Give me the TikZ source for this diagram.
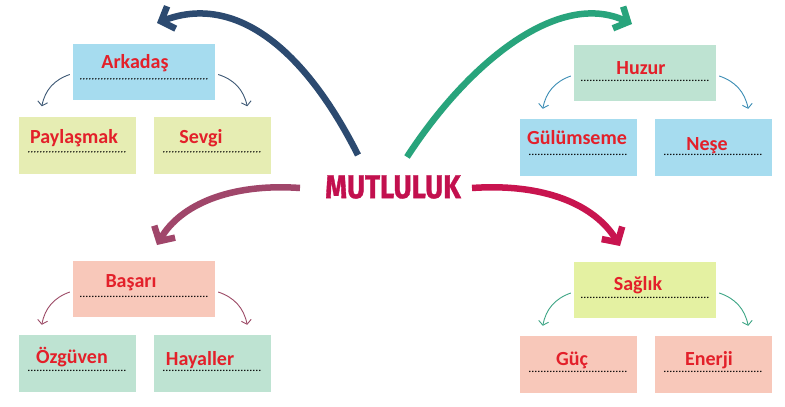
\documentclass[tikz,border=0pt]{standalone}
\usepackage{fontspec}
\setmainfont{Carlito}
\newfontfamily\basfont{Fira Sans}[FakeStretch=0.84,FakeBold=1]
\usetikzlibrary{arrows.meta}

\definecolor{kirmizi}{HTML}{E3202A}
\definecolor{mavikutu}{HTML}{A6DCEF}
\definecolor{sarikutu}{HTML}{E6EDB3}
\definecolor{sagkutu}{HTML}{E4F1A2}
\definecolor{nanekutu}{HTML}{BEE3D2}
\definecolor{somonkutu}{HTML}{F8C8BA}
\definecolor{lacivert}{HTML}{2C4A70}
\definecolor{yesil}{HTML}{28A47C}
\definecolor{murdum}{HTML}{A0466A}
\definecolor{bordo}{HTML}{C8144F}
\definecolor{mutrenk}{HTML}{C2104E}
\definecolor{arkok}{HTML}{3D5875}
\definecolor{huzok}{HTML}{3B8DB5}
\definecolor{basok}{HTML}{9C4A66}
\definecolor{sagok}{HTML}{3DA585}

\tikzset{
  kutu/.style={minimum width=142pt,minimum height=56pt,inner sep=0pt},
  altkutu/.style={kutu,minimum width=117pt,minimum height=57pt},
  yazi/.style={anchor=base,inner sep=0pt,text=kirmizi,font=\bfseries\fontsize{20pt}{24pt}\selectfont},
  noktali/.style={line width=1.6pt,line cap=round,dash pattern=on 0pt off 3pt},
  kalinok/.style={line width=6.5pt,-{Straight Barb[length=11pt,width=24pt,line join=miter]}},
  inceok/.style={line width=0.9pt,-{Straight Barb[length=4pt,width=10pt]}},
}

\begin{document}
\begin{tikzpicture}[x=1pt,y=-1pt]
\fill [white] (0,0) rectangle (785,407);
\useasboundingbox (0,0) rectangle (785,407);

% kutular
\node [kutu,fill=mavikutu] (ark) at (144,71.5) {};
\node [altkutu,fill=sarikutu] (pay) at (77.5,145) {};
\node [altkutu,fill=sarikutu] (sev) at (212.5,145) {};
\node [kutu,fill=nanekutu] (huz) at (645,73) {};
\node [altkutu,fill=mavikutu] (gul) at (578.5,147.5) {};
\node [altkutu,fill=mavikutu] (nes) at (713.5,147.5) {};
\node [kutu,fill=somonkutu] (bas) at (144,289) {};
\node [altkutu,fill=nanekutu] (ozg) at (77.5,363.5) {};
\node [altkutu,fill=nanekutu] (hay) at (212.5,363.5) {};
\node [kutu,fill=sagkutu] (sag) at (645,290) {};
\node [altkutu,fill=somonkutu] (guc) at (578.5,364.5) {};
\node [altkutu,fill=somonkutu] (ene) at (713.5,364.5) {};

% yazilar
\node [yazi] (arkY) at (135,68) {Arkadaş};
\node [yazi] (payY) at (74,143) {Paylaşmak};
\node [yazi] (sevY) at (201,143) {Sevgi};
\node [yazi] (huzY) at (641,74) {Huzur};
\node [yazi] (gulY) at (577,144) {Gülümseme};
\node [yazi] (nesY) at (707,150) {Neşe};
\node [yazi] (basY) at (131,287) {Başarı};
\node [yazi] (ozgY) at (72,363) {Özgüven};
\node [yazi] (hayY) at (200,365) {Hayaller};
\node [yazi] (sagY) at (638,290) {Sağlık};
\node [yazi] (gucY) at (572,365) {Güç};
\node [yazi] (eneY) at (709,365) {Enerji};

% noktali cizgiler
\foreach \k/\g in {ark/8,huz/8,bas/8,sag/8,pay/10,sev/10,gul/10,nes/10,ozg/10,hay/10,guc/10,ene/10}
  \draw [noktali] ([xshift=\g pt,yshift=-35.5pt]\k.north west) -- ([xshift=-\g pt,yshift=-35.5pt]\k.north east);

% kucuk oklar
\foreach \u/\s/\r/\c in {ark/pay/sev/arkok,huz/gul/nes/huzok,bas/ozg/hay/basok,sag/guc/ene/sagok} {
  \draw [inceok,\c] ([xshift=-3pt,yshift=-3pt]\u.west) to [bend right=30] ([xshift=23pt,yshift=10pt]\s.north west);
  \draw [inceok,\c] ([xshift=3pt,yshift=-3pt]\u.east) to [bend left=30] ([xshift=-24pt,yshift=10pt]\r.north east);
}

% orta
\node [text=mutrenk,font=\basfont\bfseries\fontsize{33pt}{36pt}\selectfont,inner sep=0pt] (mut) at (393,187) {MUTLULUK};

\coordinate (laciB) at (358,155);
\coordinate (laciS) at (157,23);
\coordinate (yesB) at (407,157);
\coordinate (yesS) at (632,24);
\coordinate (murB) at (300,188);
\coordinate (murS) at (157,245);
\coordinate (borB) at (472,188);
\coordinate (borS) at (620,246);

% buyuk oklar
\draw [kalinok,lacivert] (laciB) .. controls (300,40) and (230,-5) .. (laciS);
\draw [kalinok,yesil] (yesB) .. controls (470,60) and (560,-10) .. (yesS);
\draw [kalinok,murdum] (murB) .. controls (230,183) and (180,205) .. (murS);
\draw [kalinok,bordo] (borB) .. controls (545,183) and (595,205) .. (borS);
\end{tikzpicture}
\end{document}
